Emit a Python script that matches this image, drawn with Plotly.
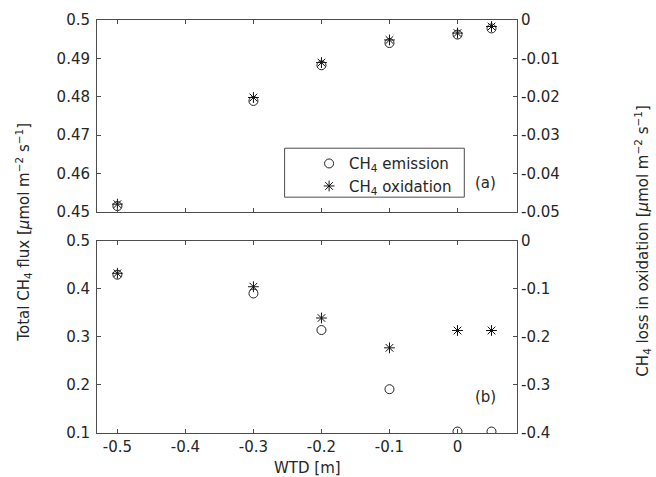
import plotly.graph_objects as go

# Water table depth (m)
wtd = [-0.5, -0.3, -0.2, -0.1, 0.0, 0.05]

# Panel (a): total CH4 flux and CH4 loss in oxidation
flux_a = [0.4515, 0.4789, 0.4882, 0.4940, 0.4962, 0.4978]
oxid_a = [-0.0480, -0.0202, -0.0111, -0.0052, -0.0034, -0.0017]

# Panel (b)
flux_b = [0.429, 0.390, 0.314, 0.191, 0.103, 0.103]
oxid_b = [-0.068, -0.096, -0.161, -0.223, -0.187, -0.187]

x_ticks = [-0.5, -0.4, -0.3, -0.2, -0.1, 0.0]
x_ticktext = ["-0.5", "-0.4", "-0.3", "-0.2", "-0.1", "0"]
ya_left = [0.45, 0.46, 0.47, 0.48, 0.49, 0.5]
ya_left_text = ["0.45", "0.46", "0.47", "0.48", "0.49", "0.5"]
ya_right = [-0.05, -0.04, -0.03, -0.02, -0.01, 0.0]
ya_right_text = ["-0.05", "-0.04", "-0.03", "-0.02", "-0.01", "0"]
yb_left = [0.1, 0.2, 0.3, 0.4, 0.5]
yb_left_text = ["0.1", "0.2", "0.3", "0.4", "0.5"]
yb_right = [-0.4, -0.3, -0.2, -0.1, 0.0]
yb_right_text = ["-0.4", "-0.3", "-0.2", "-0.1", "0"]

FONT = "DejaVu Sans"
INK = "#262626"
AX = "#4d4d4d"
FS = 15

circle = dict(symbol="circle-open", size=9, color="#222222", line=dict(width=1, color="#222222"))
star = dict(symbol="asterisk-open", size=9, color="#111111", line=dict(width=1, color="#111111"))

fig = go.Figure()
fig.add_trace(go.Scatter(x=wtd, y=flux_a, mode="markers", marker=circle,
                         xaxis="x2", yaxis="y3", name="CH<sub>4</sub> emission"))
fig.add_trace(go.Scatter(x=wtd, y=oxid_a, mode="markers", marker=star,
                         xaxis="x2", yaxis="y4", name="CH<sub>4</sub> oxidation"))
fig.add_trace(go.Scatter(x=wtd, y=flux_b, mode="markers", marker=circle,
                         xaxis="x", yaxis="y", showlegend=False))
fig.add_trace(go.Scatter(x=wtd, y=oxid_b, mode="markers", marker=star,
                         xaxis="x", yaxis="y2", showlegend=False))

xr = [-0.53, 0.0875]
common = dict(showgrid=False, zeroline=False, showline=True, linecolor=AX, linewidth=1,
              ticks="inside", ticklen=4, tickcolor=AX,
              tickfont=dict(family=FONT, size=FS, color=INK))

top_dom = [0.5355, 1.0]
bot_dom = [0.0, 0.466]

fig.update_layout(
    width=656, height=477,
    margin=dict(l=97, r=139, t=20, b=44),
    paper_bgcolor="white", plot_bgcolor="white",
    font=dict(family=FONT, size=FS, color=INK),
    xaxis=dict(range=xr, domain=[0, 1], anchor="y", mirror="ticks",
               tickvals=x_ticks, ticktext=x_ticktext, **common),
    xaxis2=dict(range=xr, domain=[0, 1], anchor="y3", mirror="ticks",
                tickvals=x_ticks, showticklabels=False, **common),
    yaxis=dict(range=[0.1, 0.5], domain=bot_dom, anchor="x", ticklabelstandoff=3,
               tickvals=yb_left, ticktext=yb_left_text, **common),
    yaxis2=dict(range=[-0.4, 0.0], domain=bot_dom, anchor="x", overlaying="y", side="right",
                tickvals=yb_right, ticktext=yb_right_text, **common),
    yaxis3=dict(range=[0.45, 0.5], domain=top_dom, anchor="x2", ticklabelstandoff=3,
                tickvals=ya_left, ticktext=ya_left_text, **common),
    yaxis4=dict(range=[-0.05, 0.0], domain=top_dom, anchor="x2", overlaying="y3", side="right",
                tickvals=ya_right, ticktext=ya_right_text, **common),
    showlegend=True,
    legend=dict(x=0.505, y=0.692, xanchor="left", yanchor="top",
                bgcolor="rgba(0,0,0,0)", borderwidth=0,
                font=dict(family=FONT, size=FS, color=INK),
                itemwidth=30, tracegroupgap=0),
)

# legend frame
fig.add_shape(type="rect", xref="paper", yref="paper",
              x0=(284.3 - 96.7) / 420, x1=(464 - 96.7) / 420,
              y0=(433.3 - 197.3) / 413.3, y1=(433.3 - 148.3) / 413.3,
              line=dict(color=AX, width=1), fillcolor="white", layer="below")

annotations = [
    dict(x=0.0407, y=0.4576, xref="x2", yref="y3", text="(a)", showarrow=False,
         font=dict(family=FONT, size=FS, color=INK)),
    dict(x=0.0407, y=0.1754, xref="x", yref="y", text="(b)", showarrow=False,
         font=dict(family=FONT, size=FS, color=INK)),
    dict(x=0.5, y=-0.085, xref="paper", yref="paper", text="WTD [m]", showarrow=False,
         yanchor="middle", font=dict(family=FONT, size=FS, color=INK)),
    dict(x=(11 - 96.7) / 420, y=(433.3 - 232) / 413.3, xref="paper", yref="paper",
         text="Total CH<sub>4</sub> flux [<i>μ</i>mol m<sup>−2</sup> s<sup>−1</sup>]",
         textangle=-90, showarrow=False, font=dict(family=FONT, size=FS, color=INK)),
    dict(x=(655 - 96.7) / 420, y=(433.3 - 241) / 413.3, xref="paper", yref="paper",
         text="CH<sub>4</sub> loss in oxidation [<i>μ</i>mol m<sup>−2</sup> s<sup>−1</sup>]",
         textangle=-90, showarrow=False, font=dict(family=FONT, size=FS, color=INK)),
]
fig.update_layout(annotations=annotations)

fig.write_html("out.html")
